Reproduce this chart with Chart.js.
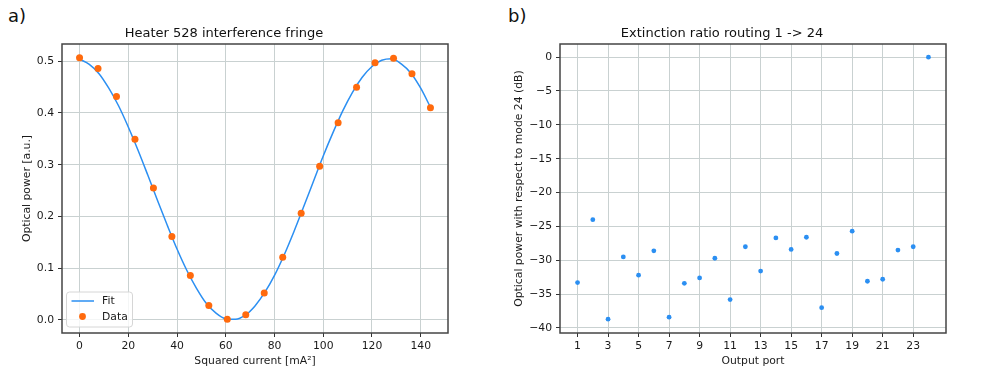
<!DOCTYPE html>
<html>
<head>
<meta charset="utf-8">
<script src="https://cdn.jsdelivr.net/npm/chart.js@4"></script>
<style>
  body { margin: 0; background: #fff; width: 996px; height: 374px; position: relative; overflow: hidden; }
  .panel { position: absolute; top: 0; width: 498px; height: 374px; }
  .tag { position: absolute; top: 5px; font: 18px "DejaVu Sans", sans-serif; color: #111; }
</style>
</head>
<body>
<div class="tag" style="left:8px">a)</div>
<div class="tag" style="left:508px">b)</div>
<div class="panel" style="left:0"><canvas id="fringe" width="498" height="374"></canvas></div>
<div class="panel" style="left:498px"><canvas id="extinction" width="498" height="374"></canvas></div>
<script>
// a) heater fringe
const fringeCurrent = [0, 7.58, 15.16, 22.74, 30.32, 37.89, 45.47, 53.05, 60.63, 68.21,
  75.79, 83.37, 90.95, 98.53, 106.11, 113.68, 121.26, 128.84, 136.42, 144];
const fringePower = [0.507, 0.486, 0.432, 0.349, 0.255, 0.161, 0.086, 0.028, 0.001, 0.010,
  0.052, 0.121, 0.206, 0.297, 0.381, 0.450, 0.497, 0.506, 0.476, 0.410];
const fitCurrent = [0, 4, 8, 12, 16, 20, 24, 28, 32, 36, 40, 44, 48, 52, 56, 60, 64, 68, 72,
  76, 80, 84, 88, 92, 96, 100, 104, 108, 112, 116, 120, 124, 128, 132, 136, 140, 144];
const fitPower = [0.504, 0.494, 0.476, 0.448, 0.414, 0.373, 0.328, 0.280, 0.231, 0.183,
  0.137, 0.096, 0.061, 0.032, 0.013, 0.002, 0.001, 0.009, 0.027, 0.053, 0.086, 0.126,
  0.171, 0.219, 0.268, 0.317, 0.362, 0.404, 0.440, 0.469, 0.490, 0.502, 0.505, 0.495,
  0.477, 0.448, 0.411];
const fringeXTicks = [0, 20, 40, 60, 80, 100, 120, 140];
const fringeYTicks = [0, 0.1, 0.2, 0.3, 0.4, 0.5];

// b) extinction ratio
const ports = [1, 2, 3, 4, 5, 6, 7, 8, 9, 10, 11, 12, 13, 14, 15, 16, 17, 18, 19, 20, 21, 22, 23, 24];
const relPower = [-33.3, -24.0, -38.7, -29.5, -32.2, -28.6, -38.4, -33.4, -32.6, -29.7, -35.8, -28.0,
  -31.6, -26.7, -28.4, -26.6, -37.0, -29.0, -25.7, -33.1, -32.8, -28.5, -28.0, 0];
const portTicks = [1, 3, 5, 7, 9, 11, 13, 15, 17, 19, 21, 23];
const dbTicks = [0, -5, -10, -15, -20, -25, -30, -35, -40];

const BLUE = '#2b8ff2';
const ORANGE = '#ff6a0d';
const GRID = '#c9d1d1';
const FONT = 'DejaVu Sans';
const TXT = 10.8;

Chart.defaults.font.family = FONT;
Chart.defaults.color = '#1a1a1a';

const frame = {
  id: 'frame',
  afterDraw(chart) {
    const {ctx, chartArea: a} = chart;
    ctx.save();
    ctx.strokeStyle = '#444';
    ctx.lineWidth = 1.5;
    ctx.strokeRect(a.left, a.top, a.right - a.left, a.bottom - a.top);
    ctx.restore();
  }
};

// matplotlib-like legend box in the lower left corner
const boxLegend = {
  id: 'boxLegend',
  afterDraw(chart) {
    const {ctx, chartArea: a} = chart;
    const x = a.left + 4.5, y = a.bottom - 41;
    ctx.save();
    ctx.fillStyle = 'rgba(255,255,255,0.8)';
    ctx.strokeStyle = '#d6d6d6';
    ctx.lineWidth = 1;
    ctx.beginPath();
    ctx.roundRect(x, y, 66, 35, 3);
    ctx.fill();
    ctx.stroke();
    const fit = chart.data.datasets[0], dat = chart.data.datasets[1];
    ctx.strokeStyle = fit.borderColor;
    ctx.lineWidth = 1.5;
    ctx.beginPath();
    ctx.moveTo(x + 5, y + 9);
    ctx.lineTo(x + 27.5, y + 9);
    ctx.stroke();
    ctx.fillStyle = dat.backgroundColor;
    ctx.beginPath();
    ctx.arc(x + 16, y + 24.5, 3.4, 0, Math.PI * 2);
    ctx.fill();
    ctx.fillStyle = '#1a1a1a';
    ctx.font = TXT + 'px "' + FONT + '"';
    ctx.textBaseline = 'middle';
    ctx.fillText(fit.label, x + 35.5, y + 9.5);
    ctx.fillText(dat.label, x + 35.5, y + 25);
    ctx.restore();
  }
};

function fixedTicks(list) {
  return scale => { scale.ticks = list.map(v => ({value: v})); };
}

function axisY(min, max, list, fmt, title, titlePad) {
  return {
    type: 'linear', min: min, max: max,
    afterBuildTicks: fixedTicks(list),
    afterFit: s => { s.width = 62; },
    grid: { color: GRID, tickColor: '#333', tickLength: 4, lineWidth: 1 },
    border: { display: false },
    ticks: { font: { size: TXT }, padding: 4, callback: fmt },
    title: { display: true, text: title, font: { size: TXT }, padding: { top: titlePad } }
  };
}

function axisX(min, max, list, title) {
  return {
    type: 'linear', min: min, max: max,
    afterBuildTicks: fixedTicks(list),
    afterFit: s => { s.height = 41; },
    grid: { color: GRID, tickColor: '#333', tickLength: 4, lineWidth: 1 },
    border: { display: false },
    ticks: { font: { size: TXT }, padding: 3, maxRotation: 0, autoSkip: false },
    title: { display: true, text: title, font: { size: TXT }, padding: { bottom: 6.5 } }
  };
}

function titleOpts(text) {
  return {
    display: true, text: text,
    font: { size: 13, weight: 'normal' }, color: '#111',
    padding: { top: 25.5, bottom: 2.9 }
  };
}

new Chart(document.getElementById('fringe'), {
  type: 'scatter',
  data: {
    datasets: [
      {
        label: 'Fit', order: 2,
        data: fitCurrent.map((x, i) => ({x: x, y: fitPower[i]})),
        showLine: true, borderColor: BLUE, borderWidth: 1.5, pointRadius: 0,
        cubicInterpolationMode: 'monotone'
      },
      {
        label: 'Data', order: 1,
        data: fringeCurrent.map((x, i) => ({x: x, y: fringePower[i]})),
        backgroundColor: ORANGE, borderWidth: 0, pointRadius: 3.5
      }
    ]
  },
  options: {
    responsive: false, animation: false,
    layout: { padding: { left: 0, right: 50, top: 0, bottom: 0 } },
    plugins: { legend: { display: false }, tooltip: { enabled: false }, title: titleOpts('Heater 528 interference fringe') },
    scales: {
      x: axisX(-7.2, 151.2, fringeXTicks, 'Squared current [mA²]'),
      y: axisY(-0.0254, 0.5334, fringeYTicks, v => v.toFixed(1), 'Optical power [a.u.]', 21.2)
    }
  },
  plugins: [frame, boxLegend]
});

new Chart(document.getElementById('extinction'), {
  type: 'scatter',
  data: {
    datasets: [{
      label: 'Relative power',
      data: ports.map((p, i) => ({x: p, y: relPower[i]})),
      backgroundColor: BLUE, borderWidth: 0, pointRadius: 2.4
    }]
  },
  options: {
    responsive: false, animation: false,
    layout: { padding: { left: 0, right: 50, top: 0, bottom: 0 } },
    plugins: { legend: { display: false }, tooltip: { enabled: false }, title: titleOpts('Extinction ratio routing 1 -> 24') },
    scales: {
      x: axisX(-0.15, 25.15, portTicks, 'Output port'),
      y: axisY(-40.74, 1.94, dbTicks, v => String(v).replace('-', '\u2212'),
        'Optical power with respect to mode 24 (dB)', 14.5)
    }
  },
  plugins: [frame]
});
</script>
</body>
</html>
